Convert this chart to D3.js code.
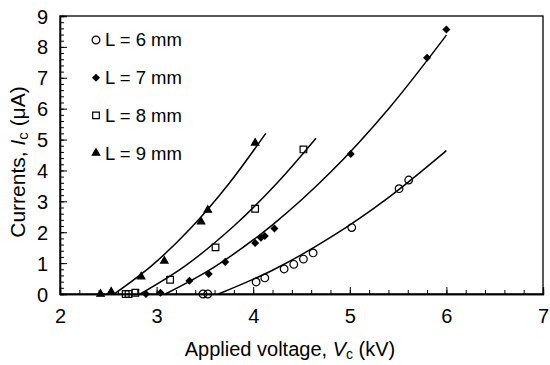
<script src="https://d3js.org/d3.v7.min.js"></script>

<style>
  body { margin: 0; background: #fff; }
  text { font-family: "Liberation Sans", Arial, sans-serif; fill: #000; }
</style>

<svg id="vis"></svg>

<script>
  // measured points, voltage (kV) vs current (uA)
  var series = ['L = 6 mm', 'L = 7 mm', 'L = 8 mm', 'L = 9 mm']

  var v6 = [3.48, 3.53, 4.03, 4.12, 4.32, 4.42, 4.52, 4.62, 5.02, 5.51, 5.61]
  var i6 = [0, 0, 0.39, 0.52, 0.81, 0.96, 1.13, 1.33, 2.15, 3.41, 3.69]

  var v7 = [2.89, 3.04, 3.34, 3.54, 3.71, 4.02, 4.08, 4.12, 4.22, 5.01, 5.80, 6.00]
  var i7 = [0, 0.04, 0.43, 0.65, 1.04, 1.65, 1.82, 1.88, 2.12, 4.53, 7.65, 8.56]

  var v8 = [2.68, 2.71, 2.78, 3.14, 3.61, 4.02, 4.52]
  var i8 = [0, 0, 0.04, 0.46, 1.51, 2.76, 4.68]

  var v9 = [2.42, 2.53, 2.84, 3.08, 3.46, 3.53, 4.02]
  var i9 = [0, 0.07, 0.56, 1.07, 2.34, 2.72, 4.89]

  // fitted curves
  var fitV6 = [3.64, 4.2, 4.8, 5.4, 6.0]
  var fitI6 = [0, 0.77, 1.83, 3.12, 4.64]
  var fitV7 = [3.09, 3.6, 4.2, 4.8, 5.4, 6.0]
  var fitI7 = [0, 0.88, 2.24, 3.94, 5.99, 8.38]
  var fitV8 = [2.83, 3.3, 3.8, 4.25, 4.65]
  var fitI8 = [0, 0.92, 2.20, 3.60, 5.04]
  var fitV9 = [2.56, 2.95, 3.35, 3.75, 4.13]
  var fitI9 = [0, 0.92, 2.12, 3.58, 5.20]

  var xTicks = [2, 3, 4, 5, 6, 7]
  var yTicks = [0, 1, 2, 3, 4, 5, 6, 7, 8, 9]

  var margin = {top: 16, right: 7, bottom: 71, left: 60}
  var width = 550 - margin.left - margin.right
  var height = 365 - margin.top - margin.bottom

  var svg = d3.select('#vis')
    .attr('width', 550)
    .attr('height', 365)

  var g = svg.append('g')
    .attr('transform', 'translate(' + margin.left + ',' + margin.top + ')')

  // Scale
  var x_scale = d3.scaleLinear().domain([2, 7]).range([0, width])
  var y_scale = d3.scaleLinear().domain([0, 9]).range([height, 0])

  // frame
  g.append('rect')
    .attr('width', width)
    .attr('height', height)
    .attr('fill', 'none')
    .attr('stroke', '#000')
    .attr('stroke-width', 1.3)

  // minor ticks every 0.2
  var xMinor = d3.range(2, 7.001, 0.2)
  var yMinor = d3.range(0, 9.001, 0.2)

  g.append('g')
    .attr('transform', 'translate(0,' + height + ')')
    .call(d3.axisBottom(x_scale).tickValues(xMinor).tickSize(-4).tickFormat(''))
  g.append('g')
    .call(d3.axisLeft(y_scale).tickValues(yMinor).tickSize(-4).tickFormat(''))

  // Axes
  var x_axis = g.append('g')
    .attr('transform', 'translate(0,' + height + ')')
    .call(d3.axisBottom(x_scale).tickValues(xTicks).tickSize(-7).tickPadding(14).tickFormat(d3.format('d')))
  var y_axis = g.append('g')
    .call(d3.axisLeft(y_scale).tickValues(yTicks).tickSize(-7).tickPadding(12).tickFormat(d3.format('d')))

  g.selectAll('.domain').attr('stroke-width', 1.3)
  g.selectAll('.tick line').attr('stroke-width', 1)
  x_axis.selectAll('text').style('font-size', '20px').attr('dy', '0.75em')
  y_axis.selectAll('text').style('font-size', '20px').attr('dy', '0.35em')

  // Axis titles
  var xt = svg.append('text')
    .attr('x', 290)
    .attr('y', 356)
    .attr('text-anchor', 'middle')
    .style('font-size', '20px')
  xt.append('tspan').text('Applied voltage,  ')
  xt.append('tspan').style('font-style', 'italic').text('V')
  xt.append('tspan').style('font-size', '14px').attr('dy', 3).text('c')
  xt.append('tspan').attr('dy', -3).text(' (kV)')

  var yt = svg.append('text')
    .attr('transform', 'translate(25,162) rotate(-90)')
    .attr('text-anchor', 'middle')
    .style('font-size', '21px')
  yt.append('tspan').text('Currents,  ')
  yt.append('tspan').style('font-style', 'italic').text('I')
  yt.append('tspan').style('font-size', '15px').attr('dy', 3).text('c')
  yt.append('tspan').attr('dy', -3).text(' (\u03bcA)')

  // Curves
  var fits = [[fitV6, fitI6], [fitV7, fitI7], [fitV8, fitI8], [fitV9, fitI9]]
  var line = d3.line()
    .x(function (d) { return x_scale(d[0]) })
    .y(function (d) { return y_scale(d[1]) })
    .curve(d3.curveCatmullRom)

  fits.forEach(function (f) {
    g.append('path')
      .datum(d3.zip(f[0], f[1]))
      .attr('d', line)
      .attr('fill', 'none')
      .attr('stroke', '#000')
      .attr('stroke-width', 1.5)
  })

  // Markers
  var shapes = [
    {sym: d3.symbolCircle, size: 46, fill: 'none', rot: 0},
    {sym: d3.symbolSquare, size: 20, fill: '#000', rot: 45},
    {sym: d3.symbolSquare, size: 44, fill: 'none', rot: 0},
    {sym: d3.symbolTriangle, size: 24, fill: '#000', rot: 0}
  ]
  var pts = [[v6, i6], [v7, i7], [v8, i8], [v9, i9]]

  pts.forEach(function (p, k) {
    var s = shapes[k]
    g.selectAll('.m' + k)
      .data(d3.zip(p[0], p[1]))
      .enter().append('path')
        .attr('class', 'm' + k)
        .attr('d', d3.symbol().type(s.sym).size(s.size))
        .attr('transform', function (d) {
          return 'translate(' + x_scale(d[0]) + ',' + y_scale(d[1]) + ') rotate(' + s.rot + ')'
        })
        .attr('fill', s.fill)
        .attr('stroke', '#000')
        .attr('stroke-width', 1.2)
  })

  // Legend
  var legend = svg.append('g')
  series.forEach(function (name, k) {
    var s = shapes[k]
    var cy = 40 + k * 37.7
    legend.append('path')
      .attr('d', d3.symbol().type(s.sym).size(s.size))
      .attr('transform', 'translate(96,' + cy + ') rotate(' + s.rot + ')')
      .attr('fill', s.fill)
      .attr('stroke', '#000')
      .attr('stroke-width', 1.2)
    legend.append('text')
      .attr('x', 105)
      .attr('y', cy)
      .attr('dy', '0.35em')
      .style('font-size', '18.5px')
      .text(name)
  })
</script>
